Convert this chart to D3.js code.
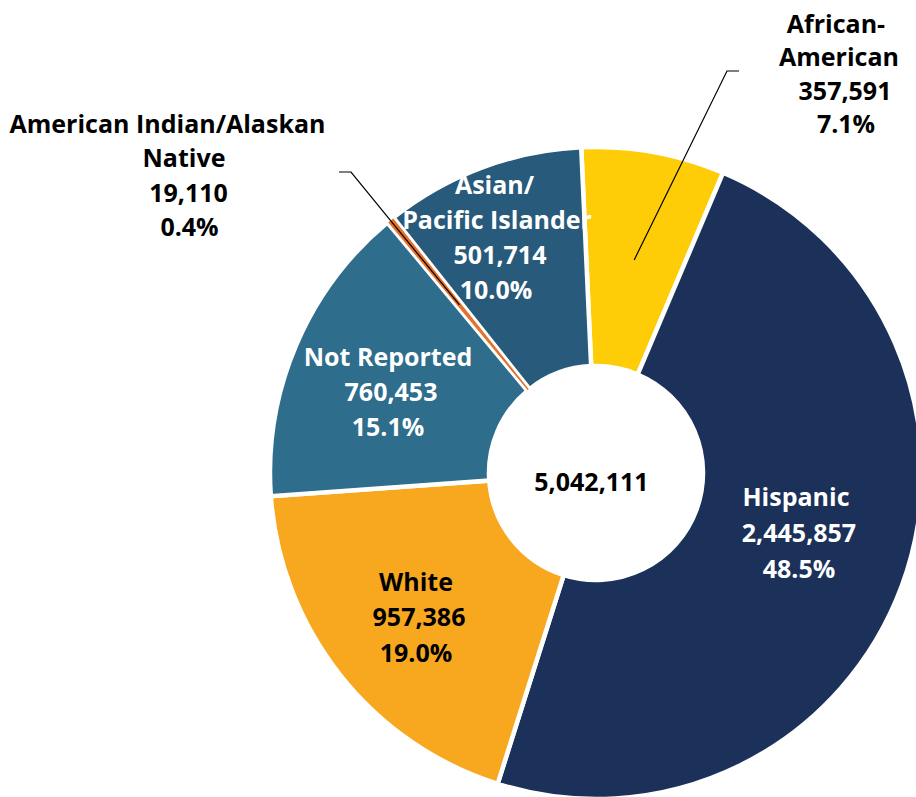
<!DOCTYPE html>
<html>
<head>
<meta charset="utf-8">
<script src="https://cdn.jsdelivr.net/npm/d3@7"></script>
<style>
  html, body { margin: 0; padding: 0; background: #ffffff; }
  svg { display: block; }
  text { font-family: "Open Sans", "Noto Sans", sans-serif; font-weight: 700; }
</style>
</head>
<body>
<div id="chart"></div>
<script>
// ---- data ----
const categories = ["African-American", "Hispanic", "White", "Not Reported",
                    "American Indian/Alaskan Native", "Asian/Pacific Islander"];
const values = [357591, 2445857, 957386, 760453, 19110, 501714];
const labelNames = [["African-", "American"], ["Hispanic"], ["White"], ["Not Reported"],
                    ["American Indian/Alaskan", "Native"], ["Asian/", "Pacific Islander"]];
const colors = ["#FECD08", "#1B3159", "#F8A81F", "#2E6D8B", "#E4722A", "#275A7B"];

// ---- layout (not data) ----
const W = 916, H = 797;
const cx = 596, cy = 473;
const rOuter = 326, rInner = 107;
const fontSize = 25;
const startDeg = -2.6;

// label blocks: x = block center, y0 = cap-center of first line, step = line spacing
const labelLayout = [
  { x: 841, y0: 24,  step: 33.4, fill: "#000", dx: [-5, -2, 4, 5] },
  { x: 798, y0: 497, step: 36,   fill: "#fff", dx: [-2, 1, 1] },
  { x: 417, y0: 582, step: 35.5, fill: "#000", dx: [-1, 2, -1] },
  { x: 389, y0: 357, step: 35,   fill: "#fff", dx: [-1, 2, -1] },
  { x: 186, y0: 124, step: 34.3, fill: "#000", dx: [-18.5, -2, 2.5, 3.5] },
  { x: 497, y0: 185, step: 35,   fill: "#fff", dx: [-2.5, 0, 3, -1] }
];
// leader lines for outside labels: elbow and end point
const leaders = {
  0: [[727, 71], [739, 71]],
  4: [[351, 172], [339, 172]]
};
const thinSlice = 4; // drawn last with a thin border so its colour stays visible

const total = d3.sum(values);
const fmtNum = d3.format(",");
const fmtPct = d3.format(".1%");

const data = categories.map((c, i) => ({
  name: c, value: values[i], lines: labelNames[i], color: colors[i], i
}));

const svg = d3.select("#chart").append("svg")
  .attr("width", W).attr("height", H)
  .attr("viewBox", `0 0 ${W} ${H}`);

const g = svg.append("g").attr("transform", `translate(${cx},${cy})`);

const a0 = startDeg * Math.PI / 180;
const pie = d3.pie().sort(null).value(d => d.value)
  .startAngle(a0).endAngle(a0 + 2 * Math.PI);
const arcs = pie(data);

const arc = d3.arc().innerRadius(rInner).outerRadius(rOuter);

const drawOrder = arcs.filter(d => d.data.i !== thinSlice).concat(arcs.filter(d => d.data.i === thinSlice));

g.selectAll("path.slice").data(drawOrder).join("path")
  .attr("class", "slice")
  .attr("d", arc)
  .attr("fill", d => d.data.color)
  .attr("stroke", "#ffffff")
  .attr("stroke-width", d => d.data.i === thinSlice ? 1.2 : 4.5)
  .attr("stroke-linejoin", "miter");

// leader lines from slice centroid
arcs.forEach((d, i) => {
  if (!leaders[i]) return;
  const c = arc.centroid(d);
  const pts = [[c[0] + cx, c[1] + cy]].concat(leaders[i]);
  svg.append("path")
    .attr("d", d3.line()(pts))
    .attr("fill", "none")
    .attr("stroke", "#000")
    .attr("stroke-width", 1.2);
});

// labels
const capHalf = fontSize * 0.357;
arcs.forEach((d, i) => {
  const L = labelLayout[i];
  const lines = d.data.lines.concat([fmtNum(d.data.value), fmtPct(d.data.value / total)]);
  const t = svg.append("text")
    .attr("text-anchor", "middle")
    .attr("font-size", fontSize)
    .attr("fill", L.fill);
  lines.forEach((s, k) => {
    t.append("tspan")
      .attr("x", L.x + (L.dx[k] || 0))
      .attr("y", L.y0 + k * L.step + capHalf)
      .text(s);
  });
});

// center total
svg.append("text")
  .attr("x", 591.5).attr("y", 482 + capHalf)
  .attr("text-anchor", "middle")
  .attr("font-size", fontSize)
  .attr("fill", "#000")
  .text(fmtNum(total));
</script>
</body>
</html>
